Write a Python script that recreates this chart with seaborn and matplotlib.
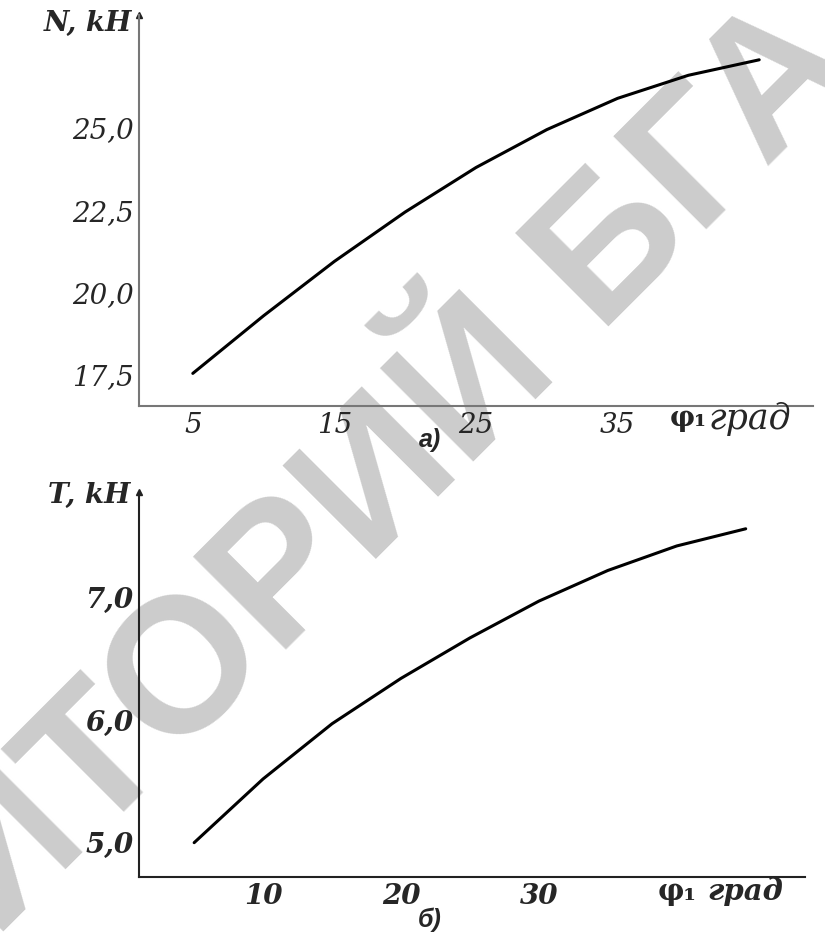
import numpy as np
import pandas as pd
import matplotlib
matplotlib.use('Agg')
import matplotlib.pyplot as plt
import seaborn as sns

# angle phi_1, degrees
phi = [5, 10, 15, 20, 25, 30, 35, 40, 45]
# chart a) N, kN
N_kn = [17.55, 19.3, 20.95, 22.45, 23.8, 24.95, 25.9, 26.6, 27.07]
# chart б) T, kN
T_kn = [5.0, 5.52, 5.97, 6.34, 6.67, 6.97, 7.22, 7.42, 7.56]

x_ticks = [5, 10, 15, 20, 25, 30, 35, 40]
x_labels_a = ['5', '', '15', '', '25', '', '35', '']
x_labels_b = ['', '10', '', '20', '', '30', '', '']
n_ticks = [17.5, 20.0, 22.5, 25.0, 27.5]
n_labels = ['17,5', '20,0', '22,5', '25,0', '']
t_ticks = [5.0, 6.0, 7.0, 7.65]
t_labels = ['5,0', '6,0', '7,0', '']

df = pd.DataFrame({'phi': phi, 'N': N_kn, 'T': T_kn})

sns.set_style('white')
plt.rcParams['font.family'] = ['DejaVu Serif', 'Liberation Serif']

fig = plt.figure(figsize=(8.25, 9.49), dpi=100)
ax1 = fig.add_axes([139 / 825, 1 - 406 / 949, 674 / 825, 391 / 949])
ax2 = fig.add_axes([139 / 825, 1 - 877 / 949, 666 / 825, 385 / 949])

sns.lineplot(data=df, x='phi', y='N', ax=ax1, color='black', linewidth=2.2)
sns.lineplot(data=df, x='phi', y='T', ax=ax2, color='black', linewidth=2.2)

ax1.set_xlim(1.2, 48.8)
ax1.set_ylim(16.56, 28.43)
ax2.set_xlim(1.0, 49.3)
ax2.set_ylim(4.72, 7.86)


def style_axes(ax, xlab, ylab, yt, ylabs, axis_col, weight):
    ax.set_facecolor('none')
    for s in ['top', 'right']:
        ax.spines[s].set_visible(False)
    for s in ['left', 'bottom']:
        ax.spines[s].set_color(axis_col)
        ax.spines[s].set_linewidth(1.5)
    ax.set_xticks(x_ticks)
    ax.set_xticklabels(xlab, fontstyle='italic', fontsize=20, weight=weight)
    ax.set_yticks(yt)
    ax.set_yticklabels(ylabs, fontstyle='italic', fontsize=20, weight=weight)
    ax.tick_params(direction='inout', length=4, width=2.5, color='#222222', pad=2)
    ax.set_xlabel('')
    ax.set_ylabel('')
    ax.plot(0, 1, marker='^', ms=5, color='#222222', transform=ax.transAxes,
            clip_on=False)


style_axes(ax1, x_labels_a, n_labels, n_ticks, n_labels, '#777777', 'normal')
style_axes(ax2, x_labels_b, t_labels, t_ticks, t_labels, '#222222', 'bold')

# axis titles
fig.text(132 / 825, 1 - 23 / 949, 'N, kH', ha='right', va='center',
         fontsize=20, fontstyle='italic', weight='bold')
fig.text(130 / 825, 1 - 495 / 949, 'T, kH', ha='right', va='center',
         fontsize=20, fontstyle='italic', weight='bold')

fig.text(670 / 825, 1 - 419 / 949, 'φ₁', ha='left', va='center', fontsize=20,
         weight='bold')
fig.text(708 / 825, 1 - 419 / 949, 'град', ha='left', va='center',
         fontsize=25, fontstyle='italic')
fig.text(658 / 825, 1 - 892 / 949, 'φ₁', ha='left', va='center', fontsize=21,
         weight='bold')
fig.text(707 / 825, 1 - 892 / 949, 'град', ha='left', va='center',
         fontsize=21, fontstyle='italic', weight='bold')

# captions
fig.text(430 / 825, 1 - 440 / 949, 'а)', ha='center', va='center',
         fontsize=18, fontstyle='italic', weight='bold',
         family=['Liberation Sans', 'DejaVu Sans'])
fig.text(430 / 825, 1 - 920 / 949, 'б)', ha='center', va='center',
         fontsize=18, fontstyle='italic', weight='bold',
         family=['Liberation Sans', 'DejaVu Sans'])

# watermark, behind the plots
fig.text(240 / 825, 1 - 625 / 949, 'РЕПОЗИТОРИЙ БГАТУ', ha='center',
         va='center', rotation=45, rotation_mode='anchor', fontsize=138,
         weight='bold', color='#cccccc', family=['Liberation Sans', 'DejaVu Sans'],
         zorder=-1)

fig.savefig('out.png', dpi=100)
